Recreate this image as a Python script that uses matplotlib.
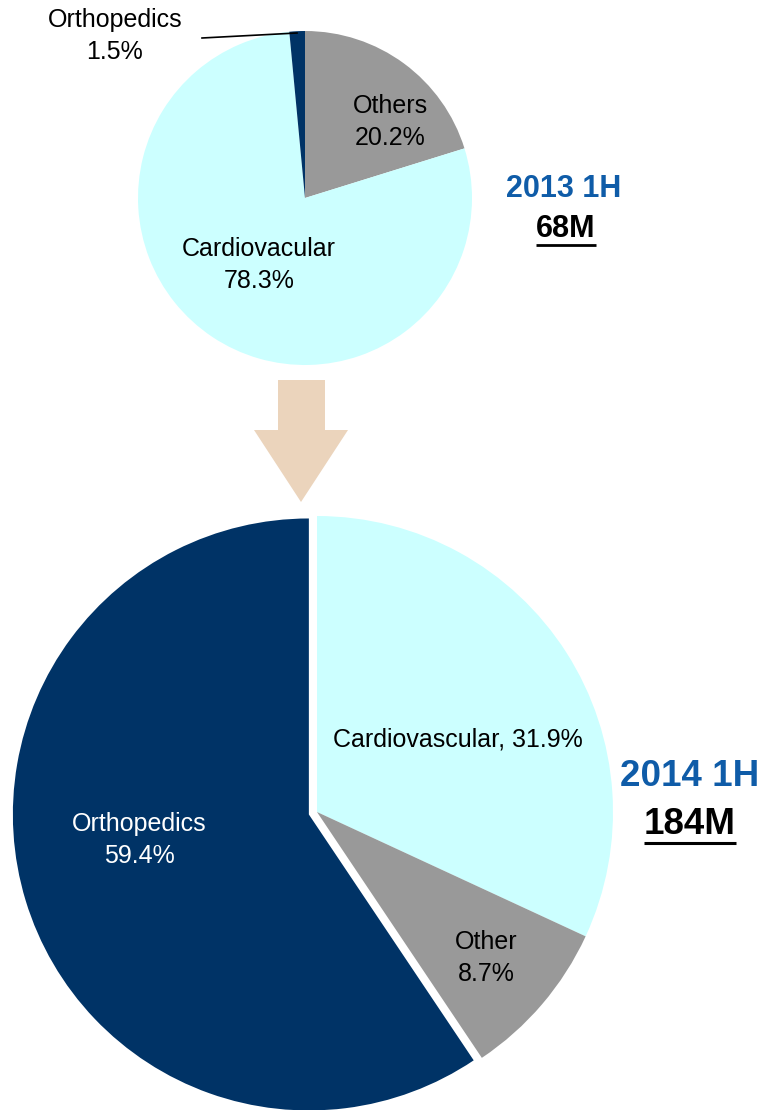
import matplotlib.pyplot as plt
from matplotlib.patches import Polygon

plt.rcParams['font.family'] = ['Liberation Sans', 'DejaVu Sans']

# 2013 1H (68M), clockwise from 12 o'clock
labels_2013 = ['Others', 'Cardiovacular', 'Orthopedics']
shares_2013 = [20.2, 78.3, 1.5]

# 2014 1H (184M), clockwise from 12 o'clock
labels_2014 = ['Cardiovascular', 'Other', 'Orthopedics']
shares_2014 = [31.9, 8.7, 59.4]

colors = {'Cardio': '#CCFFFF', 'Other': '#999999', 'Ortho': '#003366'}
blue = '#0F5CA8'

fig = plt.figure(figsize=(7.63, 11.10), dpi=100)
ax = fig.add_axes([0, 0, 1, 1])
ax.axis('off')

# inverted y-axis: data counterclockwise = visual clockwise, start -90 = top
ax.pie(shares_2013, colors=[colors['Other'], colors['Cardio'], colors['Ortho']],
       startangle=-90, counterclock=True, center=(305, 198), radius=167,
       wedgeprops=dict(linewidth=0))

# explode is in data units here (pixels)
ax.pie(shares_2014, colors=[colors['Cardio'], colors['Other'], colors['Ortho']],
       startangle=-90, counterclock=True, center=(317, 812), radius=296,
       explode=[0, 0, 8.5], wedgeprops=dict(linewidth=0))
ax.set_xlim(0, 763)
ax.set_ylim(1110, 0)  # pixel-like coordinates, y downwards

# top pie labels
fs = 18
ls = 1.45
ax.text(390, 122, f'{labels_2013[0]}\n{shares_2013[0]:.1f}%', ha='center', va='center',
        fontsize=fs, linespacing=ls)
ax.text(259, 265, f'{labels_2013[1]}\n{shares_2013[1]:.1f}%', ha='center', va='center',
        fontsize=fs, linespacing=ls)
ax.text(115, 36, f'{labels_2013[2]}\n{shares_2013[2]:.1f}%', ha='center', va='center',
        fontsize=fs, linespacing=ls)
ax.plot([202, 297], [38, 33], color='black', lw=1.2)

# bottom pie labels
ax.text(458, 739, f'{labels_2014[0]}, {shares_2014[0]:.1f}%', ha='center', va='center',
        fontsize=fs)
ax.text(486, 958, f'{labels_2014[1]}\n{shares_2014[1]:.1f}%', ha='center', va='center',
        fontsize=fs, linespacing=ls)
ax.text(139, 840, f'{labels_2014[2]}\n{shares_2014[2]:.1f}%', ha='center', va='center',
        color='white', fontsize=fs, linespacing=ls)

# period titles
ax.text(564, 189, '2013 1H', ha='center', va='center', fontsize=22,
        fontweight='bold', color=blue)
t1 = ax.text(566, 229, '68M', ha='center', va='center', fontsize=22,
             fontweight='bold', color='black')
ax.text(690, 777, '2014 1H', ha='center', va='center', fontsize=26.5,
        fontweight='bold', color=blue)
t2 = ax.text(690, 824, '184M', ha='center', va='center', fontsize=26.5,
             fontweight='bold', color='black')

# underline the totals
fig.canvas.draw()
inv = ax.transData.inverted()
for t, lw in [(t1, 2.0), (t2, 2.2)]:
    bb = t.get_window_extent()
    (x0, y0), (x1, y1) = inv.transform([(bb.x0, bb.y0), (bb.x1, bb.y1)])
    ax.plot([x0, x1], [y0 + 1, y0 + 1], color='black', lw=lw, solid_capstyle='butt')

# down arrow between the pies
arrow = Polygon([(278, 380), (325, 380), (325, 430), (348, 430), (301, 502),
                 (254, 430), (278, 430)], closed=True, facecolor='#EBD4BC',
                edgecolor='none')
ax.add_patch(arrow)

fig.savefig('out.png', dpi=100)
